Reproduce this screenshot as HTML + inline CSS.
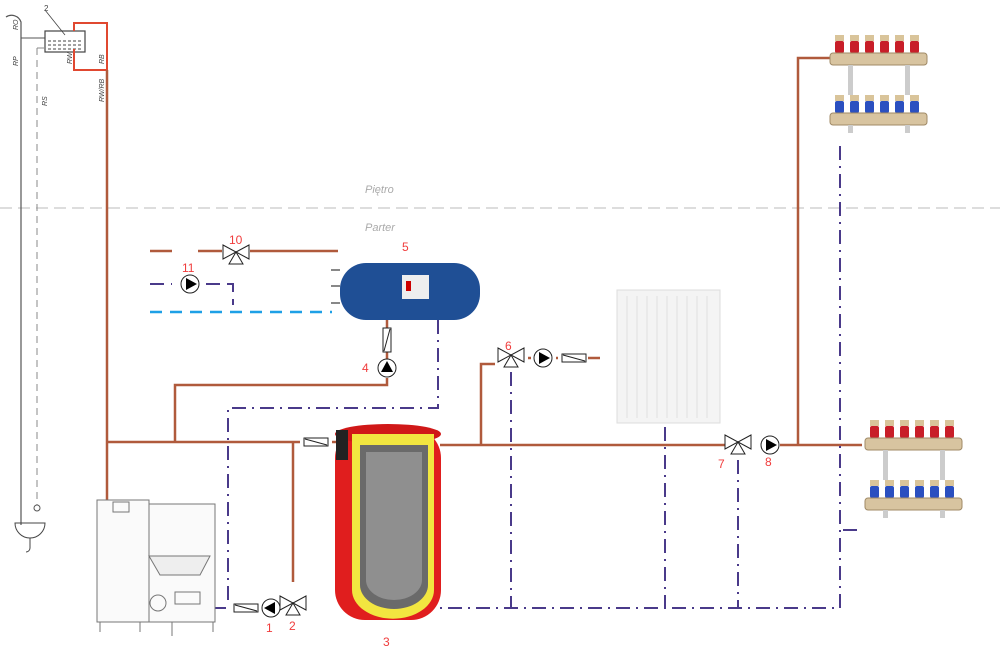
<!DOCTYPE html>
<html><head><meta charset="utf-8"><style>
html,body{margin:0;padding:0;background:#fff;}
svg{display:block;font-family:"Liberation Sans",sans-serif;}
.lbl{fill:#f03c3c;font-size:12px;}
</style></head><body>
<svg width="1000" height="656" viewBox="0 0 1000 656" xmlns="http://www.w3.org/2000/svg">
<defs>
<g id="pump"><circle r="9" fill="#fff" stroke="#222" stroke-width="1"/><path d="M-4,-6 L7,0 L-4,6 Z" fill="#000"/></g>
<g id="valve"><path d="M-13,-7 L0,0 L-13,7 Z M13,-7 L0,0 L13,7 Z M0,0 L-7,12 L7,12 Z" fill="#fff" stroke="#222" stroke-width="1"/></g>
<g id="check"><rect x="-12" y="-4" width="24" height="8" fill="#fff" stroke="#222"/><line x1="-11" y1="-3" x2="11" y2="3" stroke="#222"/></g>
<g id="man">
 <g fill="#c81e28"><rect x="5" y="6" width="9" height="12" rx="2"/><rect x="20" y="6" width="9" height="12" rx="2"/><rect x="35" y="6" width="9" height="12" rx="2"/><rect x="50" y="6" width="9" height="12" rx="2"/><rect x="65" y="6" width="9" height="12" rx="2"/><rect x="80" y="6" width="9" height="12" rx="2"/></g>
 <g fill="#d9c49a"><rect x="5" y="0" width="9" height="6"/><rect x="20" y="0" width="9" height="6"/><rect x="35" y="0" width="9" height="6"/><rect x="50" y="0" width="9" height="6"/><rect x="65" y="0" width="9" height="6"/><rect x="80" y="0" width="9" height="6"/></g>
 <rect x="0" y="18" width="97" height="12" rx="3" fill="#d8c4a0" stroke="#a08a66"/>
 <rect x="18" y="30" width="5" height="30" fill="#ccc"/><rect x="75" y="30" width="5" height="30" fill="#ccc"/>
 <g fill="#2a4fc0"><rect x="5" y="66" width="9" height="12" rx="2"/><rect x="20" y="66" width="9" height="12" rx="2"/><rect x="35" y="66" width="9" height="12" rx="2"/><rect x="50" y="66" width="9" height="12" rx="2"/><rect x="65" y="66" width="9" height="12" rx="2"/><rect x="80" y="66" width="9" height="12" rx="2"/></g>
 <g fill="#d9c49a"><rect x="5" y="60" width="9" height="6"/><rect x="20" y="60" width="9" height="6"/><rect x="35" y="60" width="9" height="6"/><rect x="50" y="60" width="9" height="6"/><rect x="65" y="60" width="9" height="6"/><rect x="80" y="60" width="9" height="6"/></g>
 <rect x="0" y="78" width="97" height="12" rx="3" fill="#d8c4a0" stroke="#a08a66"/>
 <rect x="18" y="90" width="5" height="8" fill="#ccc"/><rect x="75" y="90" width="5" height="8" fill="#ccc"/>
</g>
</defs>

<line x1="0" y1="208" x2="1000" y2="208" stroke="#bbb" stroke-dasharray="12,6"/>
<text x="365" y="193" fill="#aaa" font-size="11" font-style="italic">Piętro</text>
<text x="365" y="231" fill="#aaa" font-size="11" font-style="italic">Parter</text>

<path d="M6,17 A10,10 0 0 1 21,22 L21,525" fill="none" stroke="#555" stroke-width="1.2"/>
<line x1="21" y1="38" x2="45" y2="38" stroke="#555"/>
<path d="M37,48 L45,48 M37,48 L37,505" fill="none" stroke="#888" stroke-dasharray="7,5"/>
<circle cx="37" cy="508" r="3" fill="none" stroke="#555"/>
<path d="M15,523 L45,523 A15,15 0 0 1 15,523 Z" fill="none" stroke="#444"/>
<path d="M30,538 L30,548 A4,4 0 0 1 26,552" fill="none" stroke="#444"/>
<rect x="45" y="31" width="40" height="21" fill="none" stroke="#444" stroke-width="1.2"/>
<path d="M48,41 H82 M48,45 H82 M48,49 H82" stroke="#444" stroke-dasharray="3,2"/>
<line x1="45" y1="10" x2="65" y2="35" stroke="#444" stroke-width="0.8"/>
<text x="44" y="11" font-size="8" fill="#444">2</text>
<path d="M74,49 V70 H107 V23 H74 V31" fill="none" stroke="#e04830" stroke-width="2"/>
<g font-size="7" fill="#444" font-style="italic">
<text transform="translate(18,30) rotate(-90)">RO</text>
<text transform="translate(18,66) rotate(-90)">RP</text>
<text transform="translate(47,106) rotate(-90)">RS</text>
<text transform="translate(72,64) rotate(-90)">RW</text>
<text transform="translate(104,64) rotate(-90)">RB</text>
<text transform="translate(104,102) rotate(-90)">RW/RB</text>
</g>

<g stroke="#b05a3c" stroke-width="2.5" fill="none">
<path d="M107,70 V500"/>
<path d="M107,442 H300"/>
<path d="M332,442 H338"/>
<path d="M175,442 V385 H387 V378"/>
<path d="M387,359 V352 M387,328 V318"/>
<path d="M293,442 V582"/>
<path d="M440,445 H725"/>
<path d="M481,445 V364 H495"/>
<path d="M528,358 H531 M556,358 H558 M588,358 H600"/>
<path d="M780,445 H862"/>
<path d="M798,445 V58 H830"/>
<path d="M150,251 H172 M198,251 H222 M250,251 H338"/>
</g>

<g stroke="#4a3a8a" stroke-width="2" fill="none" stroke-dasharray="14,6,2,6">
<path d="M228,600 V408 H438 V320"/>
<path d="M420,608 H840 V140"/>
<path d="M511,372 V608"/>
<path d="M665,427 V608"/>
<path d="M738,460 V608"/>
</g>
<g stroke="#4a3a8a" stroke-width="2" fill="none" stroke-dasharray="14,7">
<path d="M843,530 H862"/>
<path d="M150,284 H172 M206,284 H233 V305"/>
<path d="M212,608 H232"/>
</g>
<path d="M150,312 H332" stroke="#1ea0e6" stroke-width="2.5" stroke-dasharray="12,8"/>

<g stroke="#777" fill="#fafafa" stroke-width="1">
<rect x="97" y="500" width="52" height="122"/>
<rect x="149" y="504" width="66" height="118"/>
<rect x="113" y="502" width="16" height="10"/>
<path d="M149,556 H210 L200,575 H160 Z" fill="#eee"/>
<circle cx="158" cy="603" r="8"/>
<rect x="175" y="592" width="25" height="12"/>
<path d="M100,622 V632 M140,622 V632 M172,622 V636 M213,622 V632"/>
</g>

<rect x="335" y="428" width="106" height="192" rx="30" fill="#e01e1e"/>
<ellipse cx="388" cy="434" rx="53" ry="10" fill="#d01818"/>
<rect x="336" y="430" width="12" height="30" fill="#222"/>
<path d="M352,434 H434 V590 A40,28 0 0 1 352,590 Z" fill="#f2e640"/>
<path d="M360,445 H428 V585 A34,24 0 0 1 360,585 Z" fill="#6a6a6a"/>
<path d="M366,452 H422 V580 A28,20 0 0 1 366,580 Z" fill="#8f8f8f"/>

<rect x="340" y="263" width="140" height="57" rx="26" fill="#1f4f95"/>
<rect x="402" y="275" width="27" height="24" fill="#eee"/>
<rect x="406" y="281" width="5" height="10" fill="#c00"/>
<path d="M331,270 H340 M331,286 H340 M331,303 H340" stroke="#888" stroke-width="2"/>

<rect x="617" y="290" width="103" height="133" fill="#f4f4f4" stroke="#ddd"/>
<g stroke="#e0e0e0"><path d="M627,296V418M637,296V418M647,296V418M657,296V418M667,296V418M677,296V418M687,296V418M697,296V418M707,296V418"/></g>

<use href="#man" x="830" y="35"/>
<use href="#man" x="865" y="420"/>

<use href="#check" x="316" y="442"/>
<use href="#check" x="246" y="608"/>
<use href="#pump" x="271" y="608" transform="rotate(180 271 608)"/>
<use href="#valve" x="293" y="603"/>
<use href="#valve" x="236" y="252"/>
<use href="#pump" x="190" y="284"/>
<use href="#check" x="387" y="340" transform="rotate(90 387 340)"/>
<use href="#pump" x="387" y="368" transform="rotate(-90 387 368)"/>
<use href="#valve" x="511" y="355"/>
<use href="#pump" x="543" y="358"/>
<use href="#check" x="574" y="358"/>
<use href="#valve" x="738" y="442"/>
<use href="#pump" x="770" y="445"/>

<text class="lbl" x="266" y="632">1</text>
<text class="lbl" x="289" y="630">2</text>
<text class="lbl" x="383" y="646">3</text>
<text class="lbl" x="362" y="372">4</text>
<text class="lbl" x="402" y="251">5</text>
<text class="lbl" x="505" y="350">6</text>
<text class="lbl" x="718" y="468">7</text>
<text class="lbl" x="765" y="466">8</text>
<text class="lbl" x="229" y="244">10</text>
<text class="lbl" x="182" y="272">11</text>
</svg>
</body></html>
